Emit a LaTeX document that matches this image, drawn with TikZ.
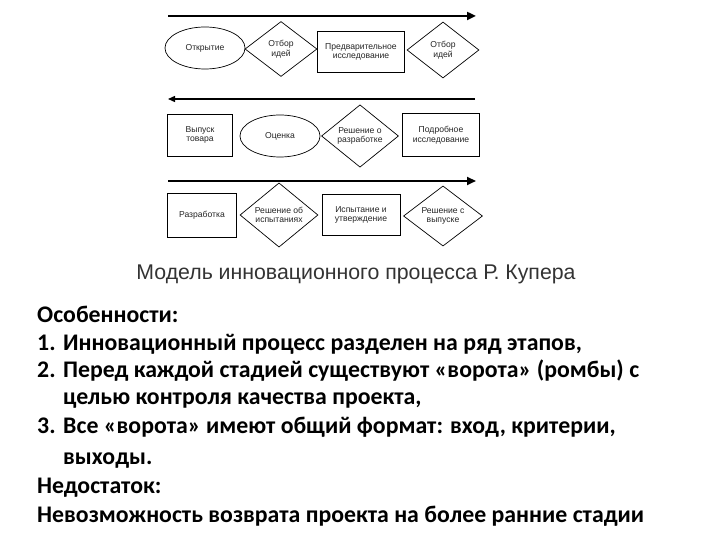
\documentclass[tikz,border=0pt]{standalone}
\usepackage{fontspec}
\setmainfont{Liberation Sans}
\newfontfamily\calb{Carlito}
\usetikzlibrary{shapes.geometric,arrows.meta}
\begin{document}
\begin{tikzpicture}[x=1pt,y=-1pt,
  lbl/.style={font=\fontsize{8.6}{9.6}\selectfont,text=black!85,align=center,inner sep=0pt},
  boxn/.style={lbl,draw,line width=0.9pt,minimum width=#1,minimum height=42pt},
  ell/.style={lbl,draw,ellipse,line width=0.7pt,minimum width=80pt,minimum height=42pt},
  gate/.style={lbl,draw,diamond,line width=0.7pt,minimum width=#1},
  flow/.style={line width=2.6pt,-{Triangle[length=9pt,width=8pt]}},
  thinflow/.style={line width=1.4pt,-{Triangle[length=7pt,width=6pt]}},
  body/.style={anchor=base west,inner sep=0pt,font=\calb\bfseries\fontsize{23.8}{25}\selectfont}]
\useasboundingbox (0,0) rectangle (720,540);
\fill[white] (0,0) rectangle (720,540);
% row 1
\coordinate (a1s) at (168,16);
\coordinate (a1e) at (476,16);
\draw[flow] (a1s) -- (a1e);
\node[ell] (n1) at (205,48) {Открытие};
\node[gate=72pt,minimum height=55pt] (n2) at (281,49) {Отбор\\идей};
\node[boxn=87pt,minimum height=41pt] (n3) at (361,52) {Предварительное\\исследование};
\node[gate=72pt,minimum height=56pt] (n4) at (443,50) {Отбор\\идей};
% row 2
\coordinate (a2s) at (475,99);
\coordinate (a2e) at (168,99);
\draw[thinflow] (a2s) -- (a2e);
\node[boxn=65pt] (m1) at (200,135) {Выпуск\\товара};
\node[ell] (m2) at (280,136) {Оценка};
\node[gate=77pt,minimum height=62pt] (m3) at (360,136) {Решение о\\разработке};
\node[boxn=77pt,minimum height=43pt] (m4) at (441,135) {Подробное\\исследование};
% row 3
\coordinate (a3s) at (168,181);
\coordinate (a3e) at (476,181);
\draw[flow] (a3s) -- (a3e);
\node[boxn=69pt,minimum height=44pt] (k1) at (202,215) {Разработка};
\node[gate=78pt,minimum height=63pt] (k2) at (279,215) {Решение об\\испытаниях};
\node[boxn=78pt,minimum height=41pt] (k3) at (361,215) {Испытание и\\утверждение};
\node[gate=79pt,minimum height=58pt] (k4) at (443,216) {Решение с\\выпуске};
% title
\node[anchor=base,inner sep=0pt,text=black!80,font=\fontsize{21.3}{24}\selectfont] (title) at (356,279) {Модель инновационного процесса Р. Купера};
% body text
\node[body] (t0) at (37,322) {Особенности:};
\node[body] (t1) at (37,350) {1.};
\node[body] (t1b) at (63,350) {Инновационный процесс разделен на ряд этапов,};
\node[body] (t2) at (37,377) {2.};
\node[body] (t2b) at (63,377) {Перед каждой стадией существуют «ворота» (ромбы) с};
\node[body] (t2c) at (63,404) {целью контроля качества проекта,};
\node[body] (t3) at (37,433) {3.};
\node[body] (t3b) at (63,433) {Все «ворота» имеют общий формат: вход, критерии,};
\node[body] (t3c) at (63,464) {выходы.};
\node[body] (t4) at (37,493) {Недостаток:};
\node[body] (t5) at (37,522) {Невозможность возврата проекта на более ранние стадии};
\end{tikzpicture}
\end{document}
